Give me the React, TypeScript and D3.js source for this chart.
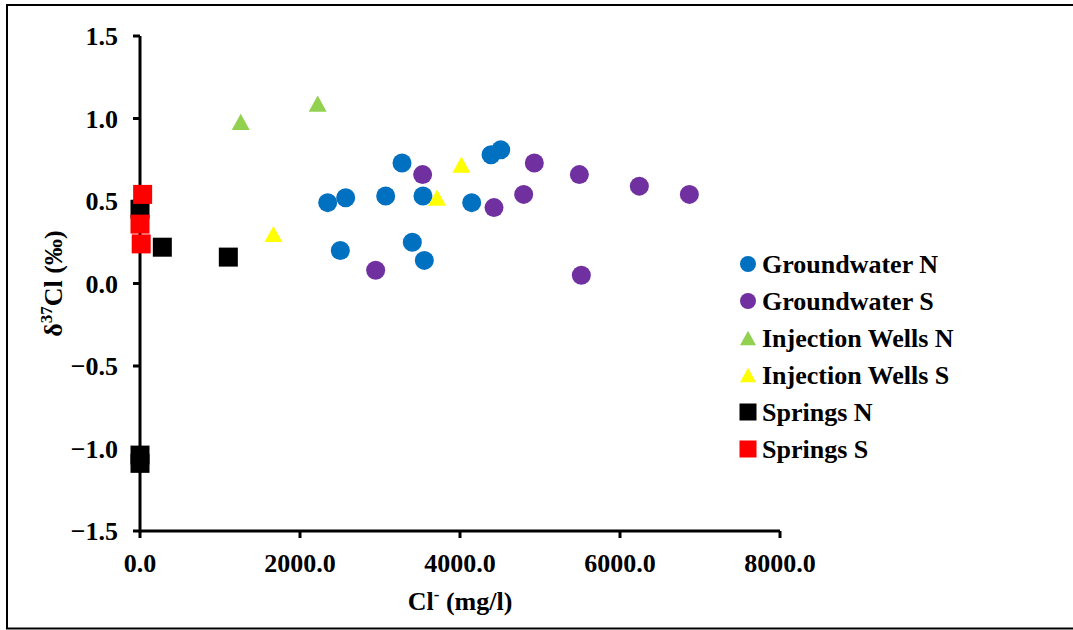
import React from 'react';
import * as d3 from 'd3';

// series: chloride (mg/l) and delta 37Cl (permil)
const gwNx = [2346, 2571, 3071, 3275, 3537, 4146, 4388, 4509, 2504, 3404, 3554];
const gwNy = [0.49, 0.52, 0.53, 0.73, 0.53, 0.49, 0.78, 0.81, 0.20, 0.25, 0.14];
const gwSx = [3533, 4929, 5492, 6242, 6867, 4796, 4425, 2946, 5517];
const gwSy = [0.66, 0.73, 0.66, 0.59, 0.54, 0.54, 0.46, 0.08, 0.05];
const injNx = [1259, 2221];
const injNy = [0.98, 1.09];
const injSx = [1667, 3713, 4017];
const injSy = [0.30, 0.52, 0.72];
const sprNx = [0, 279, 1104, 0, 0];
const sprNy = [0.45, 0.22, 0.16, -1.04, -1.09];
const sprSx = [33, 0, 15];
const sprSy = [0.54, 0.36, 0.24];

const xTicks = [0, 2000, 4000, 6000, 8000];
const yTicks = [-1.5, -1.0, -0.5, 0.0, 0.5, 1.0, 1.5];

const series = [
  { name: 'Groundwater N', xs: gwNx, ys: gwNy, color: '#0070C0', shape: 'circle' },
  { name: 'Groundwater S', xs: gwSx, ys: gwSy, color: '#7030A0', shape: 'circle' },
  { name: 'Injection Wells N', xs: injNx, ys: injNy, color: '#92D050', shape: 'triangle' },
  { name: 'Injection Wells S', xs: injSx, ys: injSy, color: '#FFFF00', shape: 'triangle' },
  { name: 'Springs N', xs: sprNx, ys: sprNy, color: '#000000', shape: 'square' },
  { name: 'Springs S', xs: sprSx, ys: sprSy, color: '#FF0000', shape: 'square' },
];

const txt: React.CSSProperties = { fontFamily: "'Liberation Serif', 'Times New Roman', Times, serif", fontWeight: 'bold' };

function marker(shape: string, cx: number, cy: number, s: number, color: string, key: any) {
  if (shape === 'circle') return <circle key={key} cx={cx} cy={cy} r={s / 2} fill={color} />;
  if (shape === 'square')
    return <rect key={key} x={cx - s / 2} y={cy - s / 2} width={s} height={s} fill={color} />;
  const h = s * 0.9;
  const pts = `${cx},${cy - h / 2} ${cx + s / 2},${cy + h / 2} ${cx - s / 2},${cy + h / 2}`;
  return <polygon key={key} points={pts} fill={color} />;
}

export default function App() {
  const W = 1073, H = 630;
  const x = d3.scaleLinear().domain([0, 8000]).range([140, 780]);
  const y = d3.scaleLinear().domain([-1.5, 1.5]).range([531, 36]);

  return (
    <svg width={W} height={H} style={{ position: 'absolute', left: 0, top: 0, background: '#fff' }}>
      <rect x={7} y={5} width={1075} height={623.5} fill="#fff" stroke="#000" strokeWidth={2} />

      {/* axes */}
      <line x1={x(0)} x2={x(8000)} y1={y(-1.5)} y2={y(-1.5)} stroke="#000" strokeWidth={3} />
      <line x1={x(0)} x2={x(0)} y1={y(-1.5) + 1.5} y2={y(1.5)} stroke="#000" strokeWidth={3} />
      {xTicks.map((t) => (
        <g key={'x' + t}>
          <line x1={x(t)} x2={x(t)} y1={y(-1.5)} y2={y(-1.5) + 7} stroke="#000" strokeWidth={3} />
          <text x={x(t)} y={y(-1.5) + 41} textAnchor="middle" fontSize={26} style={txt}>
            {d3.format('.1f')(t)}
          </text>
        </g>
      ))}
      {yTicks.map((t) => (
        <g key={'y' + t}>
          <line x1={x(0) - 7} x2={x(0)} y1={y(t)} y2={y(t)} stroke="#000" strokeWidth={3} />
          <text x={x(0) - 22} y={y(t) + 9} textAnchor="end" fontSize={26} style={txt}>
            {d3.format('.1f')(t)}
          </text>
        </g>
      ))}

      <text x={460} y={610} textAnchor="middle" fontSize={26} style={txt}>
        Cl<tspan dy={-10} fontSize={17}>-</tspan><tspan dy={10}> (mg/l)</tspan>
      </text>
      <text transform={`translate(62, ${y(0)}) rotate(-90)`} textAnchor="middle" fontSize={26} style={txt}>
        δ<tspan dy={-10} fontSize={17}>37</tspan><tspan dy={10}>Cl (‰)</tspan>
      </text>

      {/* points */}
      {series.map((s) => (
        <g key={s.name}>
          {s.xs.map((v, j) => marker(s.shape, x(v), y(s.ys[j]), s.shape === 'triangle' ? 18 : 19, s.color, j))}
        </g>
      ))}

      {/* legend */}
      {series.map((s, i) => {
        const cy = 264 + i * 37;
        return (
          <g key={'l' + s.name}>
            {marker(s.shape, 748, cy, s.shape === 'square' ? 17 : 16, s.color, 'm')}
            <text x={762} y={cy + 9} fontSize={26} style={txt}>{s.name}</text>
          </g>
        );
      })}
    </svg>
  );
}
